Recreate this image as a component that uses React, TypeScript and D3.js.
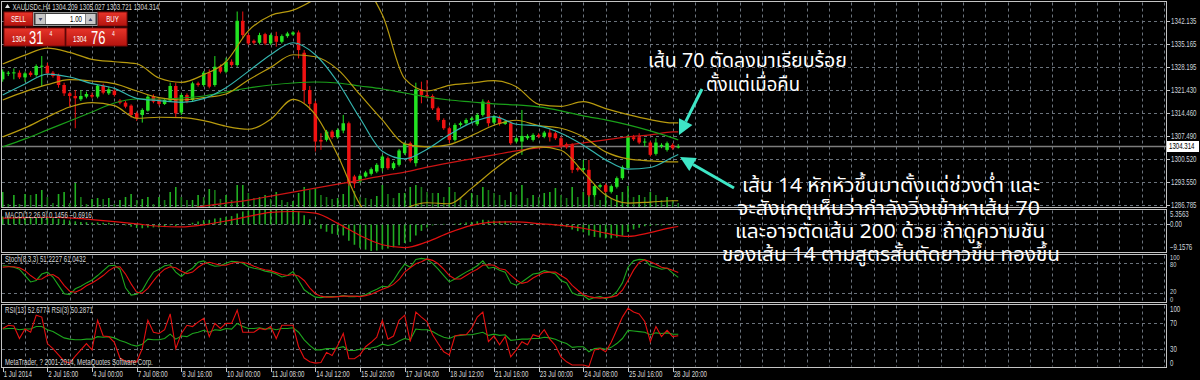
import React from 'react';
import * as d3 from 'd3';

// ---------- DATA ----------
const open = [1324.5,1326.2,1326.3,1326.5,1325.1,1326.5,1325.8,1328.3,1328.6,1326.5,
 1325.8,1322.8,1320.3,1319.5,1318.5,1319.3,1319.8,1319.3,1322.6,1320.3,
 1321.1,1318.1,1317.5,1316.6,1314.3,1313.8,1315.1,1319.5,1318.5,1317.1,
 1318.1,1322.5,1314.5,1319.8,1318.3,1323.3,1322.8,1326.5,1322.8,1328.3,
 1326.8,1329.8,1328.8,1342.1,1337.8,1336.1,1335.5,1338.1,1335.3,1337.5,
 1335.8,1337.5,1338.0,1338.6,1332.5,1321.3,1317.3,1306.3,1306.3,1308.8,
 1307.1,1309.1,1311.3,1295.3,1293.8,1295.3,1296.1,1296.8,1297.8,1300.8,
 1297.8,1298.8,1302.3,1305.3,1299.3,1321.5,1319.8,1319.5,1315.8,1312.3,
 1309.8,1306.3,1310.8,1311.3,1312.3,1311.0,1313.8,1317.8,1311.5,1313.1,
 1311.1,1311.3,1305.8,1305.8,1306.8,1306.3,1307.8,1307.3,1308.5,1308.3,
 1306.8,1305.0,1304.8,1297.8,1297.3,1297.3,1289.7,1292.2,1292.7,1290.7,
 1292.2,1294.8,1297.8,1307.1,1307.1,1305.5,1305.5,1302.1,1304.3,1303.3,
 1304.8,1304.209];
const high = [1327.5,1327.0,1327.8,1327.2,1326.8,1327.0,1329.0,1331.5,1329.5,1327.0,
 1326.2,1323.5,1320.8,1321.3,1321.3,1320.8,1320.5,1323.0,1323.2,1322.3,
 1321.8,1318.6,1318.0,1317.0,1314.8,1315.8,1319.8,1320.0,1319.0,1318.8,
 1323.5,1323.5,1320.3,1320.3,1323.8,1323.8,1327.0,1327.5,1331.5,1329.0,
 1331.0,1330.5,1344.9,1344.9,1338.3,1336.5,1338.5,1338.5,1338.3,1338.8,
 1338.0,1338.8,1339.0,1339.2,1333.3,1322.5,1318.0,1308.3,1309.3,1309.3,
 1309.8,1313.8,1311.8,1295.8,1296.0,1297.0,1298.0,1299.3,1301.8,1301.3,
 1299.8,1303.6,1305.6,1305.8,1323.5,1323.8,1324.3,1320.0,1316.3,1312.8,
 1310.3,1311.3,1311.8,1312.8,1313.3,1314.3,1318.5,1318.3,1313.8,1313.6,
 1312.3,1311.8,1307.3,1315.3,1308.0,1308.3,1308.3,1309.0,1309.8,1308.8,
 1307.3,1305.5,1305.3,1298.3,1300.3,1300.3,1292.9,1293.2,1293.2,1292.9,
 1295.3,1298.6,1307.8,1307.8,1308.3,1306.8,1306.0,1306.8,1305.3,1305.8,
 1305.3,1305.027];
const low = [1323.8,1325.5,1324.5,1324.6,1323.8,1325.3,1325.3,1322.3,1325.8,1325.0,
 1322.0,1319.5,1316.3,1309.8,1318.0,1318.8,1318.8,1318.8,1320.0,1319.8,
 1319.3,1317.0,1315.8,1313.0,1312.0,1311.5,1314.8,1317.3,1316.6,1316.8,
 1317.8,1313.1,1313.8,1317.3,1317.8,1322.3,1322.3,1321.8,1322.3,1326.3,
 1326.3,1328.3,1328.3,1336.8,1334.8,1335.0,1335.0,1334.8,1334.8,1334.3,
 1335.3,1337.0,1337.6,1330.8,1317.3,1315.3,1302.8,1303.3,1305.8,1306.6,
 1306.6,1308.3,1292.5,1291.8,1293.3,1295.0,1295.6,1296.3,1296.8,1297.3,
 1297.3,1298.3,1301.8,1299.5,1298.3,1317.3,1318.8,1315.3,1311.8,1309.3,
 1305.3,1305.8,1310.3,1310.8,1311.6,1310.5,1313.3,1310.3,1311.0,1310.6,
 1310.8,1304.8,1305.3,1301.8,1306.3,1305.8,1306.8,1306.8,1305.8,1306.3,
 1303.8,1303.6,1296.3,1296.8,1296.8,1289.2,1289.2,1291.7,1290.2,1290.2,
 1291.7,1294.3,1297.3,1306.0,1305.0,1304.3,1301.3,1301.6,1303.8,1302.8,
 1303.3,1303.721];
const close = [1326.8,1326.5,1326.6,1325.1,1326.3,1325.8,1328.5,1328.6,1326.3,1325.5,
 1322.8,1320.3,1319.5,1318.8,1319.5,1320.1,1319.3,1322.6,1320.5,1321.5,
 1319.8,1317.5,1316.3,1313.8,1312.8,1315.3,1319.3,1317.8,1317.1,1318.3,
 1322.5,1314.3,1319.8,1317.8,1323.3,1322.8,1326.5,1322.3,1328.3,1326.8,
 1329.8,1328.8,1342.1,1337.8,1335.3,1335.5,1337.8,1335.3,1337.8,1335.8,
 1337.5,1338.3,1338.6,1333.3,1321.3,1317.1,1305.8,1305.8,1308.8,1307.1,
 1309.3,1311.3,1293.2,1293.2,1295.5,1296.5,1297.5,1298.8,1301.3,1297.8,
 1299.3,1303.1,1305.1,1300.1,1321.5,1319.8,1319.3,1315.8,1312.3,1309.8,
 1306.3,1310.8,1311.3,1312.3,1312.8,1313.8,1317.8,1311.3,1313.3,1311.1,
 1311.8,1305.3,1306.8,1307.5,1307.5,1307.8,1307.3,1308.5,1307.1,1306.8,
 1304.3,1304.1,1297.3,1297.3,1297.8,1289.7,1292.4,1292.7,1290.7,1292.4,
 1294.8,1298.1,1307.1,1306.5,1305.5,1305.8,1301.8,1305.5,1304.8,1305.3,
 1303.8,1304.314];
const volume = [1500,300,1200,300,1300,1200,1300,1700,1000,400,
 1300,1500,400,2400,1000,300,800,900,800,900,
 300,700,1000,1300,700,800,1000,300,1000,700,
 1500,2000,1000,700,700,1200,1000,1800,1700,800,
 1200,700,2200,2200,1400,900,1000,1200,800,1500,
 700,500,600,1400,2000,1700,1900,1200,1000,800,
 900,1300,2500,1600,1000,900,800,1100,2200,1300,
 900,1400,1400,2000,2200,2000,1500,1400,1400,1000,
 2000,1500,1000,700,1400,1200,2000,1700,1400,1200,
 700,1500,1200,2200,900,1200,1000,1400,1500,1900,
 1200,900,2000,1000,1500,2400,1500,700,1400,900,
 1200,1500,2100,1000,1200,1000,1500,1200,700,1000,
 700,400];

// indicator lines, read every 4th bar
const sampleBars = [0,4,8,12,16,20,24,28,32,36,40,44,48,52,56,60,64,68,72,76,80,84,88,92,96,100,104,108,112,116,120,121];
const ma14 = [1319.8,1323.1,1326.1,1325.2,1323.2,1321.8,1318.8,1318.1,1317.6,1318.7,1322.0,1326.9,1331.9,1335.5,1331.9,1323.7,1312.8,1302.9,1300.6,1303.5,1307.9,1311.5,1313.3,1311.0,1310.5,1308.3,1304.7,1300.3,1297.5,1298.0,1301.1,1301.9];
const ma70 = [1304.2,1306.6,1309.3,1312.0,1314.7,1317.4,1318.6,1318.6,1318.9,1319.5,1320.7,1321.9,1322.8,1323.4,1323.7,1323.4,1322.5,1321.6,1320.4,1319.2,1318.3,1317.7,1317.1,1316.8,1316.2,1315.0,1313.5,1312.3,1310.8,1309.0,1306.9,1306.3];
const ma200 = [null,null,null,null,null,null,null,null,1285.2,1286.4,1287.3,1288.2,1289.4,1290.6,1291.8,1293.0,1294.2,1295.5,1296.6,1298.1,1299.4,1300.6,1301.8,1303.0,1303.9,1304.5,1305.4,1306.3,1307.2,1307.8,1308.7,1308.7];
const bbUpper = [1329.1,1331.8,1333.9,1332.6,1330.5,1329.8,1329.2,1324.9,1323.6,1325.9,1329.8,1339.1,1343.7,1345.3,1348.7,1353.3,1352.9,1343.9,1324.7,1321.0,1322.7,1323.4,1324.1,1322.3,1317.0,1316.4,1317.8,1315.7,1313.9,1312.4,1311.4,1311.4];
const bbMiddle = [1318.3,1320.8,1322.9,1324.4,1324.0,1323.2,1321.0,1319.0,1318.3,1319.0,1320.1,1324.3,1328.1,1331.9,1331.3,1327.5,1319.9,1312.3,1305.1,1304.2,1304.9,1307.6,1310.7,1312.2,1310.6,1309.8,1307.2,1302.7,1300.6,1300.0,1299.7,1299.7];
const bbLower = [1307.2,1309.9,1313.2,1316.2,1317.5,1316.6,1312.8,1313.1,1313.0,1312.1,1310.4,1309.5,1312.5,1318.5,1313.9,1301.7,1286.9,1280.7,1285.5,1287.4,1287.1,1291.8,1297.3,1302.1,1304.2,1303.2,1296.6,1289.7,1287.3,1287.6,1288.0,1288.0];
const macdSignal = [2.2,2.4,2.5,2.3,1.7,1.0,0.2,-0.6,-0.8,-0.1,1.2,2.8,4.2,4.5,3.9,0.4,-3.8,-7.0,-8.0,-6.0,-2.8,-0.3,0.8,0.9,0.3,-0.3,-1.3,-3.0,-4.1,-2.8,-1.0,-0.6916];

const macdMain = [2.8,2.7,2.7,2.5,2.4,2.3,2.5,2.6,2.4,2.2,
 2.0,1.7,1.4,1.1,0.9,0.8,0.6,0.7,0.6,0.6,
 0.3,0.0,-0.3,-0.8,-1.2,-1.3,-1.0,-1.0,-1.0,-0.9,
 -0.3,-0.5,-0.1,0.1,0.6,1.0,1.5,1.6,2.1,2.3,
 2.7,2.9,3.8,4.5,4.8,5.0,5.2,5.2,5.36,5.2,
 5.2,5.2,5.2,4.6,3.2,1.8,0.0,-1.5,-2.5,-3.2,
 -3.6,-3.8,-5.6,-7.0,-8.0,-8.7,-9.16,-9.0,-8.6,-8.3,
 -7.9,-7.2,-6.4,-6.0,-3.8,-2.2,-1.0,-0.3,0.1,0.2,
 0.0,0.3,0.5,0.7,0.9,1.1,1.6,1.4,1.4,1.2,
 1.1,0.5,0.1,0.0,-0.1,-0.2,-0.2,-0.2,-0.3,-0.4,
 -0.7,-0.9,-1.7,-2.3,-2.7,-3.8,-4.3,-4.5,-4.8,-4.8,
 -4.5,-3.9,-2.6,-1.7,-1.1,-0.6,-0.5,-0.3,-0.3,-0.2,
 0.0,0.1456];
const stochK = [75,74,72,68,55,42,45,58,62,52,
 35,18,16,28,33,40,46,55,65,75,
 76,68,30,15,17,25,45,62,68,75,
 77,62,53,63,70,82,85,78,74,75,
 80,84,83,80,73,70,68,64,62,58,
 52,55,63,45,26,18,11,10,12,12,
 12,14,12,12,13,16,22,27,33,32,
 45,63,78,72,88,90,88,80,68,55,
 42,48,55,62,68,75,85,70,72,66,
 62,40,35,42,50,58,60,65,62,58,
 45,40,20,15,14,6,10,12,8,12,
 22,40,72,85,88,87,75,72,68,70,
 60,51.2227];
const stochD = [72,73,73,71,65,55,47,48,55,57,
 50,35,23,21,26,34,40,47,55,65,
 72,73,58,38,21,19,29,44,58,68,
 73,71,64,59,62,72,79,82,79,76,
 76,80,82,82,79,74,70,67,65,61,
 57,55,57,54,45,30,18,13,11,11,
 12,13,13,13,12,14,17,22,27,31,
 37,47,62,71,79,83,89,86,79,68,
 55,48,48,55,62,68,76,77,76,69,
 67,56,46,39,42,50,56,61,62,62,
 55,48,35,25,16,12,10,9,10,11,
 14,25,45,66,82,87,83,78,72,70,
 66,61.0432];
const rsi13 = [61,62,62,60,61,61,65,65,60,57,
 52,47,45,44,44,45,45,49,48,49,
 47,43,40,36,34,37,45,44,44,46,
 53,45,50,49,54,56,59,56,60,59,
 62,61,70,65,62,62,63,61,62,60,
 62,62,63,56,44,35,28,28,30,30,
 31,33,27,27,29,30,31,33,37,35,
 37,42,46,44,61,60,60,57,52,48,
 46,50,51,52,52,54,56,51,53,51,
 52,43,44,45,45,46,46,48,47,45,
 41,38,32,33,33,25,30,31,29,32,
 38,46,59,58,57,56,52,55,54,55,
 53,52.6774];
const rsi3 = [62,67,66,46,61,56,83,80,38,30,
 20,10,7,18,28,38,28,75,50,49,
 40,15,10,9,9,30,75,56,54,60,
 85,30,54,67,65,72,78,49,70,62,
 70,70,91,56,56,56,62,60,65,46,
 67,67,67,33,15,9,7,8,24,19,
 35,54,14,14,20,33,40,48,75,45,
 50,75,83,41,88,80,73,52,38,25,
 20,50,52,52,62,80,88,41,50,36,
 49,17,28,41,36,52,49,60,45,35,
 17,9,4,4,4,1.5,28,30,25,40,
 60,80,94,88,85,73,41,65,49,59,
 49,50.2871];

const priceTicks = [1342.135,1335.165,1328.195,1321.430,1314.460,1307.490,1300.520,1293.550,1286.785];
const bidPrice = 1304.314;
const timeLabelBars = [0,8,16,24,32,40,48,56,64,72,80,88,96,104,112,120];
const timeLabels = ['1 Jul 2014','2 Jul 16:00','4 Jul 00:00','7 Jul 08:00','8 Jul 16:00','10 Jul 00:00','11 Jul 08:00','14 Jul 12:00','15 Jul 20:00','17 Jul 04:00','18 Jul 12:00','21 Jul 16:00','23 Jul 00:00','24 Jul 08:00','25 Jul 16:00','28 Jul 20:00'];
const macdTicks = [5.3563, 0, -9.1576];
const stochTicks = [100, 80, 20, 0];
const rsiTicks = [100, 70, 30, 0];

const noteTop = ['เส้น 70 ตัดลงมาเรียบร้อย', 'ตั้งแต่เมื่อคืน'];
const noteBottom = ['เส้น 14 หักหัวขึ้นมาตั้งแต่ช่วงต่ำ และ', 'จะสังเกตุเห็นว่ากำลังวิ่งเข้าหาเส้น 70', 'และอาจตัดเส้น 200 ด้วย ถ้าดูความชัน', 'ของเส้น 14 ตามสูตรสั้นตัดยาวขึ้น ทองขึ้น'];

// ---------- STYLE ----------
const SX = 0.72;
const FONT = "'Liberation Sans', Arial, sans-serif";
const THAI = "'Noto Sans Thai', 'Tahoma', 'Loma', 'Garuda', 'Noto Sans', 'DejaVu Sans', sans-serif";
const C = {
  grid: '#6b737c', border: '#c4c4c4', text: '#d8d8d8', axisText: '#cdd4dc',
  bull: '#22e422', bear: '#f01212', volUp: '#22b022', volDn: '#177a17',
  ma14: '#34b4ae', bb: '#b79a0e', ma70: '#1aa01a', ma200: '#cc1414',
  hist: '#22ac22', sig: '#e01010', green: '#1ea61e', red: '#e41010', arrow: '#3ee6c6'
};

const Lbl = ({ x, y, t, fill = C.text, size = 8.5, anchor = 'start', sx = SX, weight = 'normal' }: any) => (
  <text transform={`translate(${x},${y}) scale(${sx},1)`} fill={fill} fontSize={size}
    fontFamily={FONT} textAnchor={anchor} fontWeight={weight}>{t}</text>
);

const Arrow = ({ x1, y1, x2, y2 }: any) => {
  const a = Math.atan2(y2 - y1, x2 - x1);
  const len = 15, wid = 7.5;
  const bx = x2 - len * Math.cos(a), by = y2 - len * Math.sin(a);
  const px = -Math.sin(a) * wid, py = Math.cos(a) * wid;
  return (
    <g>
      <line x1={x1} y1={y1} x2={bx} y2={by} stroke={C.arrow} strokeWidth={3} />
      <polygon points={`${x2},${y2} ${bx + px},${by + py} ${bx - px},${by - py}`} fill={C.arrow} />
    </g>
  );
};

export default function App() {
  const xB = d3.scaleLinear().domain([0, 200]).range([2.7, 2.7 + 5.583 * 200]);
  const yP = d3.scaleLinear().domain([1293.55, 1342.135]).range([182.3, 20.7]);
  const yV = d3.scaleLinear().domain([0, 10000]).range([207, 107]);
  const yM = d3.scaleLinear().domain([-9.1576, 5.3563]).range([251, 209]);
  const yS = d3.scaleLinear().domain([0, 100]).range([302.5, 253.5]);
  const yR = d3.scaleLinear().domain([0, 100]).range([367.5, 304.5]);
  const RX = 1166;

  const panes = [
    { id: 'pm', t: 1.5, b: 207.5 },
    { id: 'pd', t: 209.5, b: 252.5 },
    { id: 'ps', t: 254.5, b: 302.5 },
    { id: 'pr', t: 304.5, b: 367.5 },
  ];
  const vgrid = d3.range(1, 60).map(k => Math.round(xB(4 * k)) + 0.5).filter(x => x < RX - 1);

  const sampledPath = (vals: (number | null)[], ys: any) => {
    const pts: [number, number][] = [];
    vals.forEach((v, i) => { if (v != null) pts.push([xB(sampleBars[i]), ys(v)]); });
    return d3.line().curve(d3.curveMonotoneX)(pts) || '';
  };
  const barPath = (vals: number[], ys: any) =>
    d3.line<number>().x((_, i) => xB(i)).y(v => ys(v))(vals) || '';

  const hline = (y: number, key: string) => (
    <line key={key} x1={2} x2={RX} y1={Math.round(y) + 0.5} y2={Math.round(y) + 0.5}
      stroke={C.grid} strokeDasharray="3,3" />
  );

  return (
    <svg width={1200} height={380} style={{ position: 'absolute', left: 0, top: 0, background: '#000', display: 'block' }}>
      <defs>
        {panes.map(p => (
          <clipPath id={p.id} key={p.id}><rect x={2} y={p.t + 0.5} width={RX - 2} height={p.b - p.t - 1} /></clipPath>
        ))}
        <linearGradient id="redg" x1="0" y1="0" x2="0" y2="1">
          <stop offset="0" stopColor="#e8352a" /><stop offset="1" stopColor="#b3130e" />
        </linearGradient>
      </defs>
      <rect x={0} y={0} width={1200} height={380} fill="#000" />

      {/* grids */}
      {panes.map(p => vgrid.map(x => (
        <line key={p.id + x} x1={x} x2={x} y1={p.t + 1} y2={p.b - 1} stroke={C.grid} strokeDasharray="3,3" />
      )))}
      {priceTicks.map(v => hline(yP(v), 'pg' + v))}
      {hline(yM(0), 'mg0')}
      {[80, 20].map(v => hline(yS(v), 'sg' + v))}
      {[70, 30].map(v => hline(yR(v), 'rg' + v))}

      {/* main pane */}
      <g clipPath="url(#pm)">
        {volume.map((v, i) => (
          <line key={'v' + i} x1={xB(i)} x2={xB(i)} y1={yV(0)} y2={yV(v)} strokeWidth={1.6}
            stroke={i > 0 && v < volume[i - 1] ? C.volDn : C.volUp} />
        ))}
        <line x1={2} x2={RX} y1={Math.round(yP(bidPrice)) + 0.5} y2={Math.round(yP(bidPrice)) + 0.5} stroke="#7d7d7d" strokeWidth={1.5} />
        {close.map((c, i) => {
          const o = open[i];
          const col = c >= o ? C.bull : C.bear;
          const top = yP(Math.max(o, c)), bot = yP(Math.min(o, c));
          return (
            <g key={'c' + i}>
              <line x1={xB(i)} x2={xB(i)} y1={yP(high[i])} y2={yP(low[i])} stroke={col} strokeWidth={1} />
              <rect x={xB(i) - 1.75} y={top} width={3.5} height={Math.max(1, bot - top)} fill={col} />
            </g>
          );
        })}
        <path d={sampledPath(ma200, yP)} fill="none" stroke={C.ma200} strokeWidth={1.2} />
        <path d={sampledPath(ma70, yP)} fill="none" stroke={C.ma70} strokeWidth={1.2} />
        <path d={sampledPath(bbUpper, yP)} fill="none" stroke={C.bb} strokeWidth={1.2} />
        <path d={sampledPath(bbMiddle, yP)} fill="none" stroke={C.bb} strokeWidth={1.2} />
        <path d={sampledPath(bbLower, yP)} fill="none" stroke={C.bb} strokeWidth={1.2} />
        <path d={sampledPath(ma14, yP)} fill="none" stroke={C.ma14} strokeWidth={1.2} />
      </g>

      {/* MACD */}
      <g clipPath="url(#pd)">
        {macdMain.map((v, i) => (
          <line key={'m' + i} x1={xB(i)} x2={xB(i)} y1={yM(0)} y2={yM(v)} stroke={C.hist} strokeWidth={1.6} />
        ))}
        <path d={sampledPath(macdSignal, yM)} fill="none" stroke={C.sig} strokeWidth={1.2} />
      </g>

      {/* Stochastic */}
      <g clipPath="url(#ps)">
        <path d={barPath(stochK, yS)} fill="none" stroke={C.green} strokeWidth={1.1} />
        <path d={barPath(stochD, yS)} fill="none" stroke={C.red} strokeWidth={1.1} />
      </g>

      {/* RSI */}
      <g clipPath="url(#pr)">
        <path d={barPath(rsi13, yR)} fill="none" stroke={C.green} strokeWidth={1.1} />
        <path d={barPath(rsi3, yR)} fill="none" stroke={C.red} strokeWidth={1.1} />
      </g>

      {/* pane borders */}
      {panes.map(p => (
        <rect key={'b' + p.id} x={1.5} y={p.t} width={RX - 1} height={p.b - p.t} fill="none" stroke={C.border} strokeWidth={1} />
      ))}

      {/* right axis */}
      {priceTicks.map(v => (
        <g key={'pt' + v}>
          <line x1={RX} x2={RX + 4} y1={Math.round(yP(v)) + 0.5} y2={Math.round(yP(v)) + 0.5} stroke={C.border} />
          <Lbl x={1171} y={yP(v) + 3} t={d3.format('.3f')(v)} fill={C.axisText} />
        </g>
      ))}
      <rect x={1167} y={yP(bidPrice) - 5.5} width={32} height={11} fill="#fff" />
      <Lbl x={1169} y={yP(bidPrice) + 3} t={d3.format('.3f')(bidPrice)} fill="#000" />

      <Lbl x={1170} y={217} t={d3.format('.4f')(macdTicks[0])} fill={C.axisText} />
      <Lbl x={1170} y={yM(macdTicks[1]) + 3} t={d3.format('.2f')(macdTicks[1])} fill={C.axisText} />
      <Lbl x={1170} y={250} t={d3.format('.4f')(macdTicks[2])} fill={C.axisText} />
      <line x1={RX} x2={RX + 4} y1={Math.round(yM(0)) + 0.5} y2={Math.round(yM(0)) + 0.5} stroke={C.border} />

      <Lbl x={1170} y={259.5} t={String(stochTicks[0])} fill={C.axisText} size={8} />
      <Lbl x={1170} y={267} t={String(stochTicks[1])} fill={C.axisText} size={8} />
      <Lbl x={1170} y={294} t={String(stochTicks[2])} fill={C.axisText} size={8} />
      <Lbl x={1170} y={301.5} t={String(stochTicks[3])} fill={C.axisText} size={8} />

      <Lbl x={1170} y={312} t={String(rsiTicks[0])} fill={C.axisText} />
      <Lbl x={1170} y={yR(rsiTicks[1]) + 3} t={String(rsiTicks[1])} fill={C.axisText} />
      <Lbl x={1170} y={yR(rsiTicks[2]) + 3} t={String(rsiTicks[2])} fill={C.axisText} />
      <Lbl x={1170} y={365.5} t={String(rsiTicks[3])} fill={C.axisText} />

      {/* time axis */}
      {timeLabelBars.map((b, i) => (
        <g key={'tl' + b}>
          <line x1={Math.round(xB(b)) + 0.5} x2={Math.round(xB(b)) + 0.5} y1={368} y2={372} stroke={C.border} />
          <Lbl x={xB(b) + 1} y={377} t={timeLabels[i]} fill={C.text} />
        </g>
      ))}

      {/* pane titles */}
      <Lbl x={5} y={218} t={`MACD(12,26,9) ${d3.format('.4f')(macdMain[macdMain.length - 1])} ${d3.format('.4f')(macdSignal[macdSignal.length - 1])}`} />
      <Lbl x={5} y={262} t={`Stoch(8,3,3) ${d3.format('.4f')(stochK[stochK.length - 1])} ${d3.format('.4f')(stochD[stochD.length - 1])}`} />
      <Lbl x={5} y={313} t={`RSI(13) ${d3.format('.4f')(rsi13[rsi13.length - 1])}  RSI(3) ${d3.format('.4f')(rsi3[rsi3.length - 1])}`} />
      <Lbl x={5} y={365} t="MetaTrader, ? 2001-2014, MetaQuotes Software Corp." />

      {/* header */}
      <polygon points="5,8 7.5,4 10,8" fill="#e0e0e0" />
      <Lbl x={12.5} y={9.5} t={`XAUUSDc,H4  ${open[121].toFixed(3)} ${high[121].toFixed(3)} ${low[121].toFixed(3)} ${close[121].toFixed(3)}`} />

      {/* one-click trading panel */}
      <g>
        <rect x={4} y={12} width={29} height={14} fill="url(#redg)" stroke="#7a0a0a" />
        <Lbl x={18.5} y={22} t="SELL" fill="#fff" anchor="middle" />
        <rect x={33.5} y={12.5} width={64} height={13} fill="#3a3a3a" stroke="#9a9a9a" />
        <rect x={35.5} y={14} width={10} height={10} fill="#c8c8c8" />
        <polygon points="38.5,18 42.5,18 40.5,21" fill="#404a70" />
        <rect x={46} y={14} width={39} height={10} fill="#fff" />
        <Lbl x={82} y={22} t="1.00" fill="#000" anchor="end" />
        <rect x={85.5} y={14} width={10} height={10} fill="#c8c8c8" />
        <polygon points="88.5,21 92.5,21 90.5,18" fill="#404a70" />
        <rect x={98} y={12} width={29} height={14} fill="url(#redg)" stroke="#7a0a0a" />
        <Lbl x={112.5} y={22} t="BUY" fill="#fff" anchor="middle" />
        <rect x={4} y={28} width={61} height={18} fill="url(#redg)" stroke="#7a0a0a" />
        <rect x={66} y={28} width={61} height={18} fill="url(#redg)" stroke="#7a0a0a" />
        <Lbl x={12} y={42} t="1304" fill="#fff" size={8.5} />
        <Lbl x={29} y={43.5} t="31" fill="#fff" size={18} />
        <Lbl x={49.5} y={35.5} t="4" fill="#fff" size={7} />
        <Lbl x={73} y={42} t="1304" fill="#fff" size={8.5} />
        <Lbl x={91} y={43.5} t="76" fill="#fff" size={18} />
        <Lbl x={112} y={35.5} t="4" fill="#fff" size={7} />
      </g>

      {/* annotations */}
      <text x={648} y={67} fill="#fff" fontSize={19.5} fontFamily={THAI} textLength={199} lengthAdjust="spacingAndGlyphs">{noteTop[0]}</text>
      <text x={706} y={91} fill="#fff" fontSize={19.5} fontFamily={THAI} textLength={94} lengthAdjust="spacingAndGlyphs">{noteTop[1]}</text>
      <text x={742} y={192} fill="#fff" fontSize={19.5} fontFamily={THAI} textLength={298} lengthAdjust="spacingAndGlyphs">{noteBottom[0]}</text>
      <text x={737} y={215} fill="#fff" fontSize={19.5} fontFamily={THAI} textLength={303} lengthAdjust="spacingAndGlyphs">{noteBottom[1]}</text>
      <text x={735} y={238} fill="#fff" fontSize={19.5} fontFamily={THAI} textLength={310} lengthAdjust="spacingAndGlyphs">{noteBottom[2]}</text>
      <text x={722} y={261} fill="#fff" fontSize={19.5} fontFamily={THAI} textLength={338} lengthAdjust="spacingAndGlyphs">{noteBottom[3]}</text>
      <Arrow x1={702} y1={89} x2={679} y2={135} />
      <Arrow x1={734} y1={188} x2={680} y2={157} />
    </svg>
  );
}
